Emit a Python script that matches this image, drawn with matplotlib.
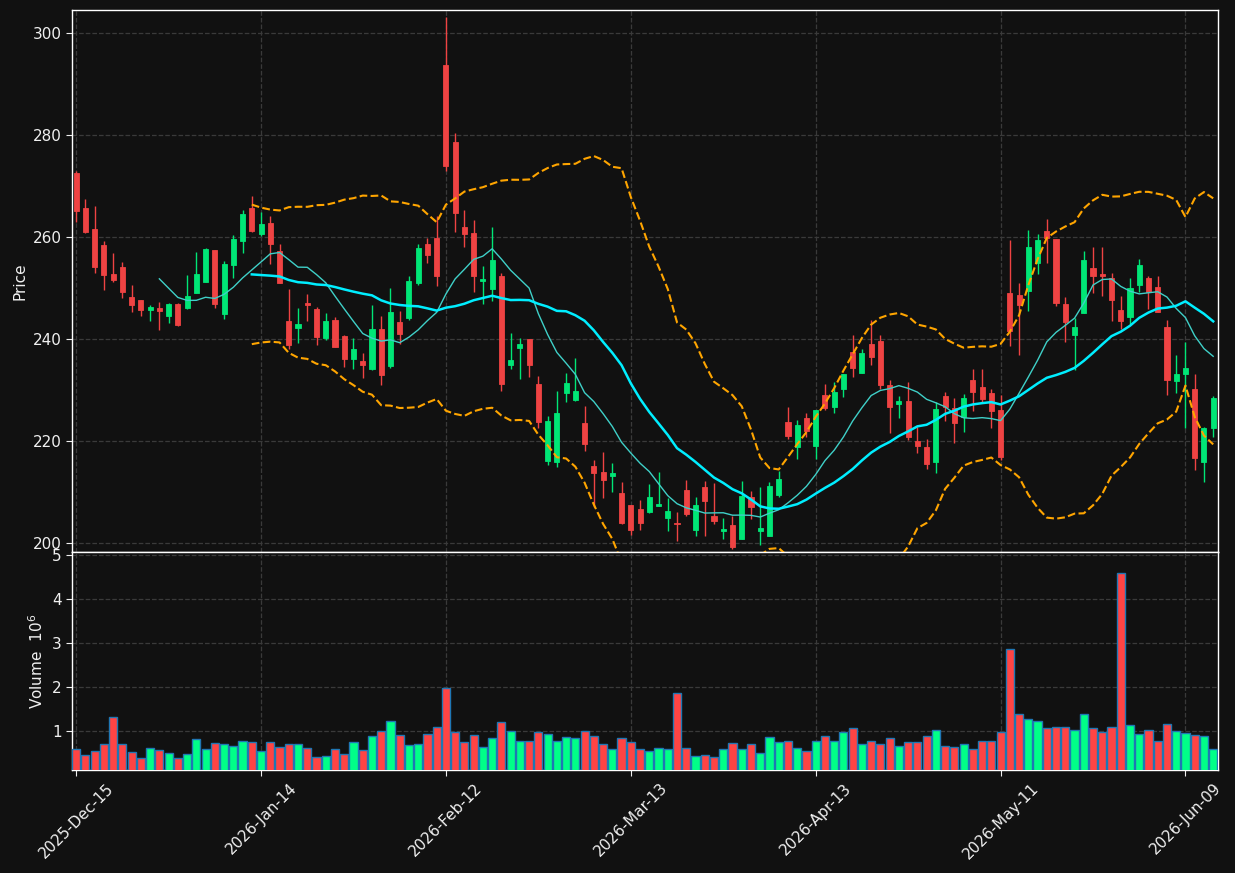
import numpy as np
import pandas as pd
import matplotlib
matplotlib.use('Agg')
import matplotlib.pyplot as plt

# dados (124 pregões)
opens = [272.6, 265.75, 261.6, 258.5, 252.8, 254.2, 248.3, 247.7, 245.8, 246.1,
         244.6, 246.9, 246.2, 249.15, 251.3, 257.5, 245.0, 254.6, 259.3, 265.75,
         260.7, 262.8, 257.3, 243.6, 242.3, 247.1, 245.9, 240.3, 243.8, 240.65,
         236.2, 235.75, 234.2, 242.0, 234.8, 243.4, 244.2, 251.1, 258.7, 259.9,
         293.8, 278.7, 262.0, 260.8, 251.5, 249.9, 252.4, 235.0, 238.3, 240.1,
         231.2, 216.1, 216.0, 229.4, 228.2, 223.6, 215.1, 214.0, 213.3, 209.9,
         207.5, 206.7, 206.2, 207.4, 205.0, 204.0, 210.5, 202.7, 211.0, 205.4,
         202.5, 203.5, 200.9, 209.1, 202.5, 201.5, 209.5, 223.8, 218.9, 224.6,
         219.1, 229.1, 226.7, 230.3, 237.5, 233.4, 239.1, 239.7, 231.0, 227.4,
         227.9, 220.1, 218.9, 216.0, 228.9, 226.5, 224.8, 232.0, 230.65, 229.5,
         226.1, 249.1, 248.7, 249.5, 255.0, 261.2, 259.7, 246.9, 240.85, 245.2,
         254.0, 252.8, 252.0, 245.75, 244.4, 250.65, 252.0, 250.3, 242.4, 231.8,
         233.2, 230.3, 216.0, 222.6]
highs = [273.0, 267.6, 266.1, 259.3, 256.9, 255.1, 250.65, 247.7, 246.7, 247.3,
         247.1, 247.1, 252.6, 257.1, 258.0, 257.5, 255.4, 260.5, 265.4, 268.1,
         264.9, 264.2, 258.7, 249.8, 246.1, 248.9, 246.3, 245.2, 244.4, 240.85,
         240.3, 237.3, 246.7, 244.6, 250.1, 245.6, 252.4, 258.7, 259.9, 264.2,
         303.2, 280.4, 265.3, 263.5, 254.3, 262.0, 253.1, 241.2, 240.3, 240.1,
         232.8, 224.9, 229.8, 233.5, 236.35, 227.0, 216.4, 218.0, 215.7, 212.0,
         207.5, 208.5, 211.6, 214.0, 208.9, 206.2, 212.4, 209.1, 212.2, 211.8,
         205.0, 205.4, 212.2, 210.3, 211.0, 212.0, 214.2, 226.7, 224.2, 225.6,
         226.1, 231.2, 231.6, 233.2, 240.85, 238.1, 243.8, 240.85, 232.0, 228.9,
         231.6, 222.8, 220.5, 227.7, 229.7, 228.5, 229.3, 234.2, 234.2, 230.3,
         229.1, 259.5, 251.0, 261.4, 260.65, 263.6, 259.7, 248.3, 244.2, 257.3,
         258.1, 258.1, 253.0, 248.5, 252.0, 255.75, 252.4, 252.4, 243.8, 236.9,
         239.5, 233.2, 222.8, 228.9]
lows = [263.1, 260.9, 253.1, 249.6, 251.2, 248.2, 245.4, 244.5, 243.7, 241.8,
        243.3, 242.7, 246.0, 249.1, 251.2, 246.2, 243.9, 252.1, 257.0, 261.0,
        260.3, 254.8, 251.1, 238.1, 239.2, 243.7, 238.8, 239.9, 238.5, 234.5,
        234.1, 232.5, 233.9, 231.1, 234.4, 239.1, 243.8, 250.7, 255.0, 250.4,
        273.1, 261.1, 258.2, 249.2, 247.0, 247.6, 229.9, 234.1, 232.3, 232.7,
        222.7, 215.3, 214.9, 227.8, 228.0, 218.2, 207.1, 208.8, 210.0, 203.7,
        201.7, 202.7, 206.0, 207.4, 202.5, 200.5, 205.4, 201.5, 201.5, 203.7,
        200.9, 198.95, 200.9, 204.8, 199.7, 201.5, 209.1, 220.5, 216.5, 220.85,
        216.5, 226.1, 225.55, 228.7, 232.6, 233.4, 235.0, 230.3, 221.6, 224.6,
        220.3, 217.7, 214.6, 213.8, 224.0, 219.7, 221.8, 226.0, 227.7, 222.6,
        216.3, 238.7, 236.9, 245.55, 252.8, 255.0, 246.5, 239.5, 234.0, 245.2,
        249.1, 248.5, 243.6, 242.0, 243.0, 249.3, 245.9, 245.4, 229.1, 229.5,
        222.6, 214.4, 212.0, 220.85]
closes = [265.2, 261.1, 254.25, 252.7, 251.7, 249.3, 246.8, 245.8, 246.3, 245.6,
          246.9, 242.9, 248.5, 252.8, 257.7, 247.0, 254.8, 259.7, 264.6, 261.3,
          262.6, 258.8, 251.1, 238.8, 243.0, 246.7, 240.5, 243.6, 238.5, 236.2,
          238.1, 235.0, 242.0, 233.1, 245.4, 241.1, 251.4, 257.9, 256.6, 252.5,
          274.05, 264.7, 260.7, 252.5, 251.8, 255.5, 231.3, 235.95, 239.1, 235.0,
          223.8, 224.0, 225.5, 231.4, 229.9, 219.5, 213.85, 212.4, 213.8, 204.05,
          202.7, 204.05, 209.1, 207.7, 206.4, 203.7, 205.8, 207.5, 208.4, 204.4,
          202.9, 199.3, 209.3, 207.2, 203.1, 211.2, 212.6, 221.0, 223.2, 222.0,
          226.1, 226.5, 229.7, 233.2, 234.4, 237.3, 236.5, 231.0, 226.7, 227.9,
          220.85, 219.1, 215.55, 226.3, 226.7, 223.6, 228.5, 229.7, 228.3, 226.0,
          216.9, 241.6, 246.7, 258.1, 259.5, 259.9, 247.1, 243.4, 242.4, 255.55,
          252.4, 252.4, 247.7, 243.6, 250.1, 254.6, 249.3, 245.4, 232.0, 233.2,
          234.4, 216.7, 222.6, 228.5]
# volume em milhoes
volumes = [0.59, 0.45, 0.55, 0.70, 1.32, 0.70, 0.52, 0.39, 0.61, 0.57,
           0.50, 0.39, 0.48, 0.82, 0.59, 0.73, 0.70, 0.66, 0.77, 0.75,
           0.55, 0.75, 0.64, 0.70, 0.70, 0.61, 0.41, 0.43, 0.59, 0.48,
           0.75, 0.57, 0.89, 1.00, 1.23, 0.91, 0.69, 0.70, 0.93, 1.09,
           1.98, 0.98, 0.75, 0.91, 0.64, 0.84, 1.20, 1.00, 0.77, 0.79,
           0.98, 0.93, 0.79, 0.86, 0.84, 1.00, 0.89, 0.70, 0.59, 0.84,
           0.75, 0.59, 0.55, 0.61, 0.59, 1.86, 0.61, 0.43, 0.45, 0.41,
           0.59, 0.73, 0.59, 0.70, 0.50, 0.86, 0.75, 0.79, 0.61, 0.55,
           0.79, 0.89, 0.79, 0.98, 1.07, 0.70, 0.77, 0.70, 0.84, 0.66,
           0.75, 0.75, 0.89, 1.02, 0.66, 0.64, 0.70, 0.59, 0.77, 0.77,
           0.98, 2.86, 1.39, 1.27, 1.23, 1.07, 1.09, 1.09, 1.02, 1.39,
           1.07, 0.98, 1.09, 4.59, 1.14, 0.93, 1.02, 0.77, 1.16, 1.00,
           0.95, 0.91, 0.89, 0.59]
tick_labels = ['2025-Dec-15', '2026-Jan-14', '2026-Feb-12', '2026-Mar-13',
               '2026-Apr-13', '2026-May-11', '2026-Jun-09']
tick_step = 20

#----------------------------------------------------------------
bg = '#111111'
cor_alta = '#00e676'
cor_baixa = '#ef4343'
vol_alta = '#00ff88'
vol_baixa = '#ff4444'
grid_cor = '#3a3a3a'
txt = '#f0f0f0'

df = pd.DataFrame({'open': opens, 'high': highs, 'low': lows,
                   'close': closes, 'vol': volumes})
x = np.arange(len(df))
alta = df['close'] >= df['open']

mav10 = df['close'].rolling(10).mean()
mav20 = df['close'].rolling(20).mean()
std20 = df['close'].rolling(20).std()
bb_sup = mav20 + 2 * std20
bb_inf = mav20 - 2 * std20

fig = plt.figure(figsize=(12.35, 8.73), dpi=100, facecolor=bg)
W, H = 1235.0, 873.0
ax1 = fig.add_axes([72 / W, (H - 552) / H, 1146 / W, 542 / H])
ax2 = fig.add_axes([72 / W, (H - 770) / H, 1146 / W, 218 / H], sharex=ax1)

for ax in (ax1, ax2):
    ax.set_facecolor(bg)
    for s in ax.spines.values():
        s.set_color('white')
        s.set_linewidth(1.0)
    ax.grid(True, color=grid_cor, linestyle='--', linewidth=0.9)
    ax.set_axisbelow(True)
    ax.tick_params(colors=txt, labelsize=11, length=4)

# candles
cores = np.where(alta, cor_alta, cor_baixa)
ax1.vlines(x, df['low'], df['high'], colors=cores, linewidth=1.0, zorder=2)
corpo = (df['close'] - df['open']).abs()
base = np.minimum(df['open'], df['close'])
ax1.bar(x, corpo, bottom=base, width=0.55, color=cores, edgecolor=cores,
        linewidth=0.6, zorder=3)

ax1.plot(x, mav10, color='#3fd0c8', linewidth=1.0, zorder=4)
ax1.plot(x, mav20, color='#00eeff', linewidth=1.8, zorder=4)
ax1.plot(x, bb_sup, color='#ffa500', linestyle='--', linewidth=1.5, zorder=4)
ax1.plot(x, bb_inf, color='#ffa500', linestyle='--', linewidth=1.5, zorder=4)

ax1.set_ylim(198.3, 304.6)
ax1.set_yticks(np.arange(200, 301, 20))
ax1.set_ylabel('Price', color=txt, fontsize=11)
ax1.tick_params(axis='x', bottom=False, labelbottom=False)

# volume
vcores = np.where(alta, vol_alta, vol_baixa)
ax2.bar(x, df['vol'], width=0.88, color=vcores, edgecolor='#1f77b4',
        linewidth=1.0, zorder=3)
ax2.set_ylim(0.12, 5.075)
ax2.set_yticks([1, 2, 3, 4, 5])
ax2.set_ylabel('Volume  $10^{6}$', color=txt, fontsize=11)

ax2.set_xlim(-0.45, len(df) - 0.48)
pos = np.arange(0, len(df), tick_step)[:len(tick_labels)]
ax2.set_xticks(pos)
ax2.set_xticklabels(tick_labels, rotation=45, ha='center')

fig.savefig('out.png', dpi=100, facecolor=bg)
